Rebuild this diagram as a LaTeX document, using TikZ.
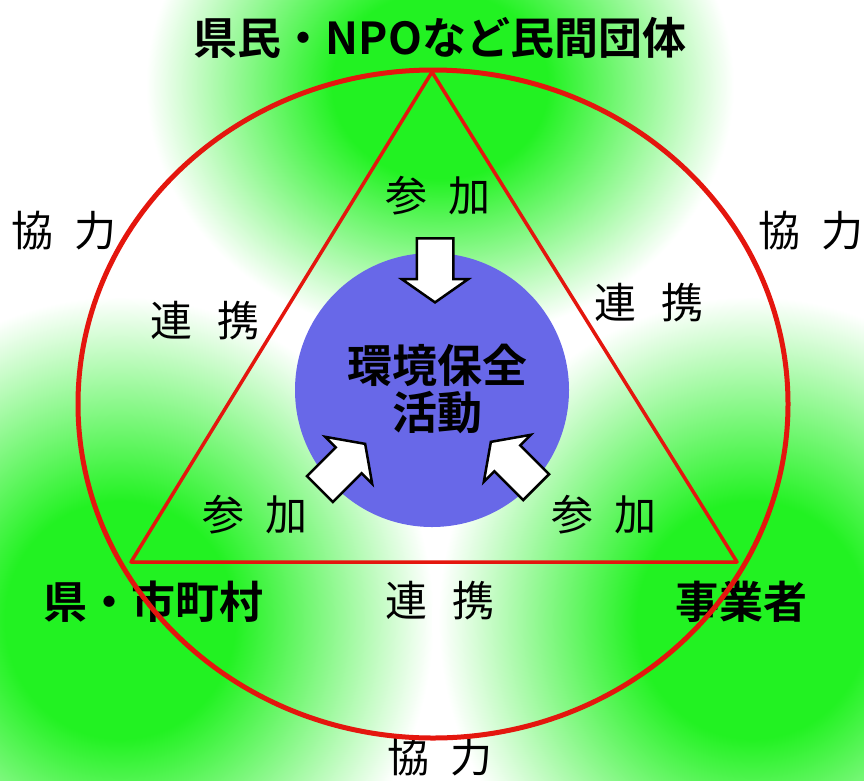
\documentclass[tikz,border=0pt]{standalone}
\usepackage{fontspec}
\setmainfont{Noto Sans CJK JP}[BoldFont={Noto Sans CJK JP Bold}]
\usetikzlibrary{shapes.arrows}

\definecolor{ringred}{RGB}{228,22,14}
\definecolor{leaf}{RGB}{34,242,34}
\definecolor{pool}{RGB}{104,104,232}

%% soft round glow, green in the middle, white at the rim
\pgfdeclareradialshading{greenglow}{\pgfpointorigin}{color(0bp)=(leaf); color(9bp)=(leaf); color(24.5bp)=(white); color(50bp)=(white)}

\tikzset{
  glowfill/.style={shading=greenglow},
  tag/.style={font=\fontsize{42}{46}\selectfont, inner sep=0pt},
  title/.style={font=\fontsize{44}{48}\selectfont\bfseries, inner sep=0pt},
  pointer/.style={single arrow, draw=black, line width=2.5pt, fill=white,
    minimum height=64pt, inner xsep=0pt, inner ysep=17pt,
    single arrow head extend=15pt, single arrow tip angle=110}
}

\begin{document}
\begin{tikzpicture}[x=1pt,y=-1pt]
  \useasboundingbox (0,0) rectangle (864,780);

  %% green glow round the three partners
  \shade[glowfill] (440,85) ellipse (300 and 260);
  \shade[glowfill] (120,620) ellipse (320 and 330);
  \shade[glowfill] (752,620) ellipse (320 and 330);

  \fill[pool] (432,390) circle (137);

  \node[pointer, rotate=-90] (a1) at (435,264) {};
  \node[pointer, rotate=45]  (a2) at (338,471) {};
  \node[pointer, rotate=135] (a3) at (518,469) {};

  \coordinate (vt) at (432,72);
  \coordinate (vl) at (131,562);
  \coordinate (vr) at (737,562);
  \draw[ringred, line width=3.5pt, line join=round] (vt) -- (vl) -- (vr) -- cycle;

  \node[title] (who)  at (440,38)  {県民・NPOなど民間団体};
  \node[title] (city) at (153,602) {県・市町村};
  \node[title] (firm) at (741,602) {事業者};
  \node[title, align=center, font=\fontsize{45}{47}\selectfont\bfseries]
    (act) at (437,389) {環境保全\\活動};

  \node[tag] (k1) at (64,231)  {協\hspace{.5em}力};
  \node[tag] (k2) at (811,231) {協\hspace{.5em}力};
  \node[tag] (k3) at (440,757) {協\hspace{.5em}力};

  \node[tag] (r1) at (205,321) {連\hspace{.6em}携};
  \node[tag] (r2) at (649,303) {連\hspace{.6em}携};
  \node[tag] (r3) at (440,601) {連\hspace{.6em}携};

  \node[tag] (s1) at (438,196) {参\hspace{.5em}加};
  \node[tag] (s2) at (255,515) {参\hspace{.5em}加};
  \node[tag] (s3) at (604,515) {参\hspace{.5em}加};

  \draw[ringred, line width=5pt] (433,404) ellipse (355 and 334);

\end{tikzpicture}
\end{document}
